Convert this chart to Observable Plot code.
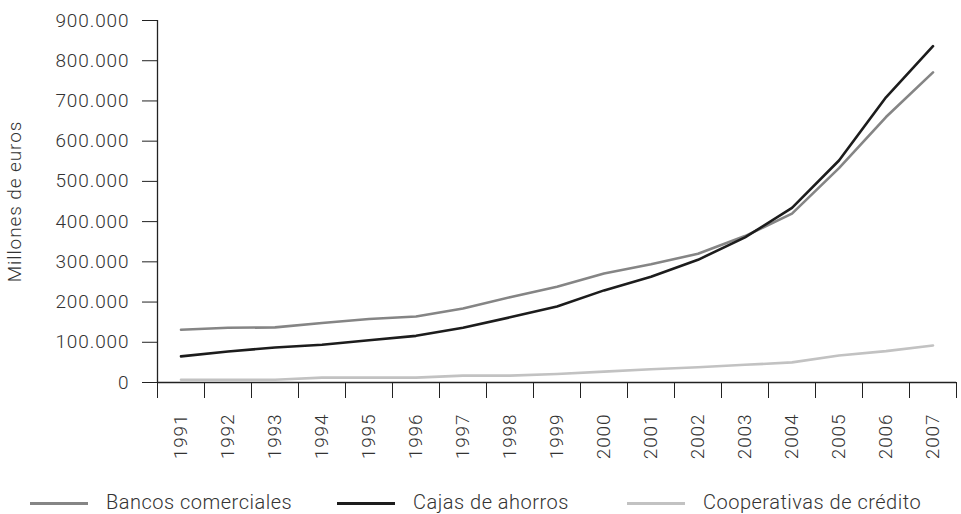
<!DOCTYPE html>
<html><head><meta charset="utf-8">
<script src="https://cdn.jsdelivr.net/npm/d3@7"></script>
<script src="https://cdn.jsdelivr.net/npm/@observablehq/plot@0.6"></script>
<style>
body{margin:0;background:#fff;font-family:Roboto,"Liberation Sans",sans-serif;}
#wrap{position:relative;width:961px;height:514px;overflow:hidden;}
#chart svg{display:block;}
.sw{position:absolute;height:3px;width:58px;top:502px;}
.lt{position:absolute;top:492px;font-size:20px;font-weight:300;color:#333;letter-spacing:0.5px;line-height:20px;white-space:nowrap;}
</style></head><body><div id="wrap"><div id="chart"></div><div id="legend"></div></div>
<script>
const years = [1991,1992,1993,1994,1995,1996,1997,1998,1999,2000,2001,2002,2003,2004,2005,2006,2007];
const bancos = [131000,136000,137000,148000,158000,164000,184000,212000,238000,271000,294000,320000,364000,420000,533000,660000,771000];
const cajas  = [65000,77000,87000,94000,105000,116000,136000,162000,189000,229000,263000,305000,361000,434000,552000,709000,836000];
const coop   = [7000,7000,7000,12000,12000,12000,17000,17000,21000,27000,33000,38000,44000,50000,67000,78000,92000];
const seriesNames = ["Bancos comerciales","Cajas de ahorros","Cooperativas de crédito"];
const seriesColors = ["#858585","#1c1c1c","#c2c2c2"];
const yTicks = [0,100000,200000,300000,400000,500000,600000,700000,800000,900000];

const seriesValues = [bancos, cajas, coop];
const data = [];
seriesNames.forEach((s, i) => years.forEach((yr, j) => data.push({series: s, year: yr, value: seriesValues[i][j]})));
const boundaries = years.map(y => y - 0.5).concat([years[years.length-1] + 0.5]);
const fmt = d3.formatLocale({thousands: ".", grouping: [3], decimal: ","}).format(",");

const chart = Plot.plot({
  width: 961, height: 472,
  marginTop: 20, marginLeft: 157, marginRight: 5, marginBottom: 90,
  style: {fontFamily: "Roboto", fontSize: "19px", fontWeight: 300, color: "#333", background: "#fff", letterSpacing: "0.9px"},
  x: {type: "linear", domain: [boundaries[0], boundaries[boundaries.length-1]]},
  y: {domain: [0, 900000]},
  color: {domain: seriesNames, range: seriesColors},
  marks: [
    Plot.axisY({ticks: yTicks, tickSize: 15, tickPadding: 13, tickFormat: fmt, label: "Millones de euros", labelAnchor: "center", labelOffset: 150, labelArrow: "none", stroke: "#222"}),
    Plot.axisX({ticks: years, tickSize: 0, tickRotate: -90, tickPadding: 31, tickFormat: d => String(d), label: null}),
    Plot.axisX({ticks: boundaries, tickSize: 16, tickFormat: () => "", label: null, stroke: "#222"}),
    Plot.ruleY([0], {stroke: "#222", strokeWidth: 1.3}),
    Plot.ruleX([boundaries[0]], {stroke: "#222", strokeWidth: 1.3}),
    Plot.line(data, {x: "year", y: "value", stroke: "series", z: "series", strokeWidth: 2.6})
  ]
});
document.getElementById("chart").appendChild(chart);

const swLeft = [30, 337, 627];
const txLeft = [106, 413, 703];
const leg = document.getElementById("legend");
seriesNames.forEach((s, i) => {
  const sw = document.createElement("div");
  sw.className = "sw"; sw.style.left = swLeft[i] + "px"; sw.style.background = seriesColors[i];
  const t = document.createElement("div");
  t.className = "lt"; t.style.left = txLeft[i] + "px"; t.textContent = s;
  leg.appendChild(sw); leg.appendChild(t);
});
</script></body></html>
